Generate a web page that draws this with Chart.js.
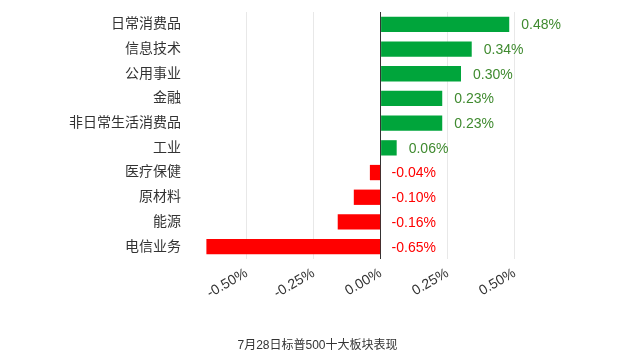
<!DOCTYPE html>
<html>
<head>
<meta charset="utf-8">
<script src="https://cdn.jsdelivr.net/npm/chart.js@4/dist/chart.umd.min.js"></script>
<style>
html,body{margin:0;padding:0;background:#fff;}
#wrap{width:619px;height:362px;position:relative;}
</style>
</head>
<body>
<div id="wrap"><canvas id="c" width="619" height="362"></canvas></div>
<script>
const categories = ["日常消费品","信息技术","公用事业","金融","非日常生活消费品","工业","医疗保健","原材料","能源","电信业务"];
const values = [0.48, 0.34, 0.30, 0.23, 0.23, 0.06, -0.04, -0.10, -0.16, -0.65];
const tickValues = [-0.5, -0.25, 0, 0.25, 0.5];
const titleText = "7月28日标普500十大板块表现";

const FONT = "'Liberation Sans', Arial, 'Noto Sans CJK SC', sans-serif";

const labelPlugin = {
  id: 'barLabels',
  afterDatasetsDraw(chart) {
    const ctx = chart.ctx;
    const meta = chart.getDatasetMeta(0);
    const xs = chart.scales.x;
    const zero = xs.getPixelForValue(0);
    ctx.save();
    ctx.font = "14px " + FONT;
    ctx.textBaseline = 'middle';
    ctx.textAlign = 'left';
    meta.data.forEach((bar, i) => {
      const v = values[i];
      const txt = v.toFixed(2) + '%';
      let x;
      if (v >= 0) {
        x = bar.x + 12;
        ctx.fillStyle = '#3f8a2f';
      } else {
        x = zero + 11;
        ctx.fillStyle = '#ff0000';
      }
      ctx.fillText(txt, x, bar.y + 1);
    });
    ctx.restore();
  }
};

new Chart(document.getElementById('c'), {
  type: 'bar',
  data: {
    labels: categories,
    datasets: [{
      data: values,
      backgroundColor: values.map(v => v >= 0 ? '#00a53b' : '#ff0000'),
      barPercentage: 0.62,
      categoryPercentage: 1.0,
      borderWidth: 0
    }]
  },
  options: {
    indexAxis: 'y',
    responsive: false,
    animation: false,
    layout: { padding: { top: 12, right: 0, bottom: 0, left: 16 } },
    plugins: {
      legend: { display: false },
      tooltip: { enabled: false },
      title: {
        display: true,
        position: 'bottom',
        text: titleText,
        color: '#333',
        font: { family: FONT, size: 12, weight: 'normal' },
        padding: { top: 10, bottom: 9 }
      }
    },
    scales: {
      x: {
        min: -0.7,
        max: (619 - 193) / 268 - 0.7,
        afterBuildTicks(scale) { scale.ticks = tickValues.map(v => ({ value: v })); },
        afterFit(scale) { scale.height = 69.6; scale.paddingLeft = 0; scale.paddingRight = 0; },
        border: { display: false },
        grid: {
          drawTicks: false,
          color: ctx => (ctx.tick && ctx.tick.value === 0) ? '#333333' : '#e8e8e8',
          lineWidth: 1
        },
        ticks: {
          padding: 6,
          minRotation: 30,
          maxRotation: 30,
          color: '#333',
          font: { family: FONT, size: 14 },
          callback: v => Number(v).toFixed(2) + '%'
        }
      },
      y: {
        afterFit(scale) { scale.width = 177; scale.paddingTop = 0; scale.paddingBottom = 0; },
        border: { display: false },
        grid: { display: false, drawTicks: false },
        ticks: {
          padding: 12,
          color: '#333',
          font: { family: FONT, size: 14 }
        }
      }
    }
  },
  plugins: [labelPlugin]
});
</script>
</body>
</html>
